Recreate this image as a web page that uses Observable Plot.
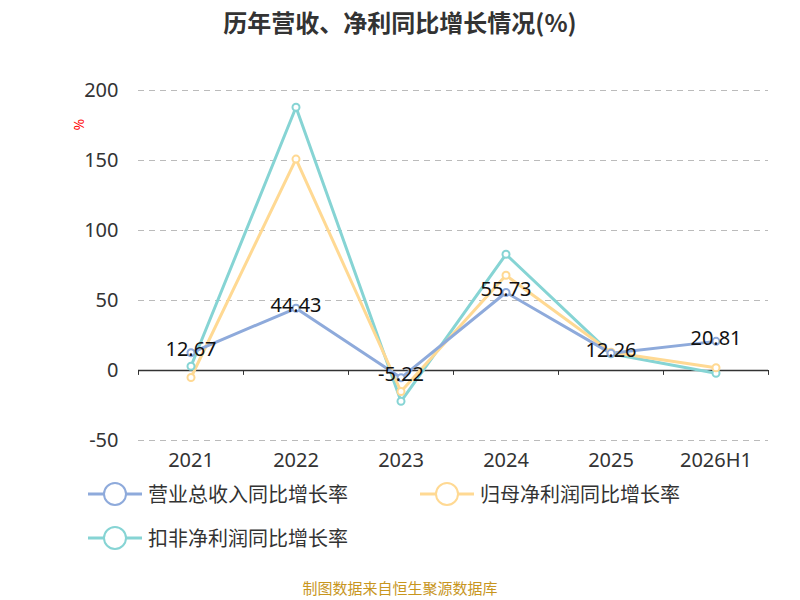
<!DOCTYPE html>
<html><head><meta charset="utf-8">
<script src="https://cdn.jsdelivr.net/npm/d3@7"></script>
<script src="https://cdn.jsdelivr.net/npm/@observablehq/plot@0.6"></script>
<style>
body{margin:0;width:800px;height:600px;font-family:"Noto Sans CJK SC","Noto Sans",sans-serif;background:#fff;position:relative;overflow:hidden}
#title{position:absolute;top:4px;left:0;width:800px;text-align:center;font-size:24px;font-weight:bold;color:#333}
#chart{position:absolute;top:60px;left:0}
.leg{position:absolute;font-size:20px;color:#333;display:flex;align-items:center}
.leg svg{margin-right:6px}
#cap{position:absolute;top:577px;width:800px;text-align:center;font-size:15px;color:#c8961e}
</style></head><body>
<div id="title">历年营收、净利同比增长情况(%)</div>
<div id="chart"></div>
<div id="legend"></div>
<div id="cap">制图数据来自恒生聚源数据库</div>
<script>
const years=["2021","2022","2023","2024","2025","2026H1"];
const revenue=[12.67,44.43,-5.22,55.73,12.26,20.81];
const netProfit=[-5,151,-15,68,13,2];
const deducted=[3,188,-22,83,12,-2];
const seriesNames=["营业总收入同比增长率","归母净利润同比增长率","扣非净利润同比增长率"];
const colors=["#8eaadb","#ffd993","#86d4d4"];
const yTicks=[-50,0,50,100,150,200];
const rows=[];
[revenue,netProfit,deducted].forEach((arr,s)=>arr.forEach((v,i)=>rows.push({i,v,s:seriesNames[s]})));
const edges=d3.range(years.length+1).map(i=>i-0.5);
const order=[2,1,0];
const numFont="Noto Sans, sans-serif";
const chart=Plot.plot({
 width:800,height:420,marginLeft:138,marginRight:32,marginTop:30,marginBottom:40,
 style:{fontSize:"20px",fontFamily:numFont,color:"#333"},
 x:{type:"linear",domain:[-0.5,years.length-0.5],label:null},
 y:{domain:[-50,200],label:null},
 marks:[
  Plot.gridY(yTicks,{stroke:"#bbb",strokeOpacity:1,strokeDasharray:"6,5"}),
  Plot.axisY(yTicks,{tickSize:0,tickPadding:20,fontSize:20,fill:"#333",label:null,tickFormat:d=>String(d)}),
  Plot.axisX(d3.range(years.length),{tickSize:0,tickPadding:12,fontSize:20,fill:"#333",label:null,tickFormat:i=>years[i]}),
  Plot.ruleY([0],{stroke:"#333",strokeWidth:1.5}),
  Plot.ruleX(edges,{x:d=>d,y1:0,y2:-3.5,stroke:"#333"}),
  ...order.map(s=>Plot.line(rows.filter(r=>r.s===seriesNames[s]),{x:"i",y:"v",stroke:colors[s],strokeWidth:3})),
  ...order.map(s=>Plot.dot(rows.filter(r=>r.s===seriesNames[s]),{x:"i",y:"v",r:3.5,stroke:colors[s],fill:"#fff",strokeWidth:2})),
  Plot.text(revenue,{x:(d,i)=>i,y:d=>d,text:d=>d.toFixed(2),dy:-3,fontSize:20,fill:"#111"}),
  Plot.text(["%"],{frameAnchor:"top-left",dx:-64,dy:40,rotate:-90,fill:"red",fontSize:14})
 ]
});
document.getElementById("chart").appendChild(chart);
const pos=[[88,479],[420,479],[88,523]];
seriesNames.forEach((n,s)=>{
 const d=document.createElement("div");d.className="leg";
 d.style.left=pos[s][0]+"px";d.style.top=pos[s][1]+"px";
 d.innerHTML=`<svg width="54" height="26"><line x1="0" y1="13" x2="54" y2="13" stroke="${colors[s]}" stroke-width="3"/><circle cx="27" cy="13" r="11" fill="#fff" stroke="${colors[s]}" stroke-width="2"/></svg>${n}`;
 document.getElementById("legend").appendChild(d);
});
</script></body></html>
